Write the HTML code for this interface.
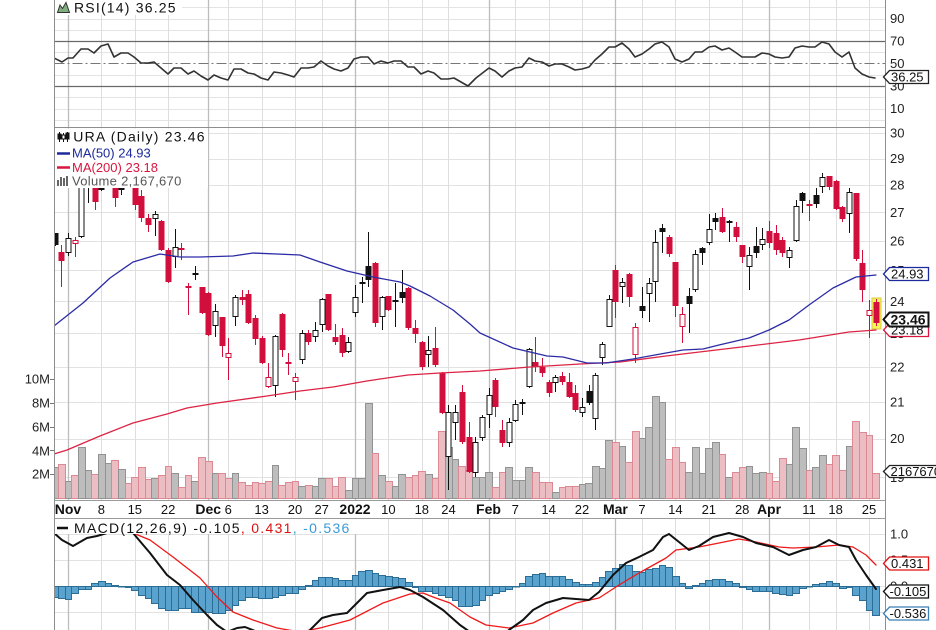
<!DOCTYPE html>
<html><head><meta charset="utf-8">
<style>
html,body{margin:0;padding:0;background:#fff;overflow:hidden;width:936px;height:630px;}
svg{display:block;}
text{font-family:"Liberation Sans",Arial,sans-serif;}
</style></head>
<body>
<svg id="c" width="936" height="630" viewBox="0 0 936 630" xmlns="http://www.w3.org/2000/svg">
<defs>
<clipPath id="cpPrice"><rect x="55" y="128" width="830" height="372"/></clipPath>
<clipPath id="cpRsi"><rect x="55" y="0" width="830" height="127"/></clipPath>
<clipPath id="cpMacd"><rect x="55" y="519" width="830" height="112"/></clipPath>
</defs>
<rect x="0" y="0" width="936" height="630" fill="#fff"/>
<g id="grid"></g>
<!-- RSI reference lines -->
<line x1="54.5" x2="885" y1="41.5" y2="41.5" stroke="#6a6a6a" stroke-width="1.2"/>
<line x1="54.5" x2="885" y1="86.5" y2="86.5" stroke="#6a6a6a" stroke-width="1.2"/>
<line x1="54.5" x2="885" y1="63.5" y2="63.5" stroke="#777" stroke-width="1" stroke-dasharray="10,3,2,3"/>
<g id="vol" clip-path="url(#cpPrice)"></g>
<g id="hist" clip-path="url(#cpMacd)"></g>
<g clip-path="url(#cpPrice)">
<rect x="872" y="298" width="9" height="31" fill="#f7f25a" stroke="#d8cb3c" stroke-width="1"/>
</g>
<g id="cand" clip-path="url(#cpPrice)"></g>
<g id="lines"></g>

<!-- panel borders -->
<line x1="54.5" x2="54.5" y1="0" y2="630" stroke="#8e8e8e"/>
<line x1="885.5" x2="885.5" y1="0" y2="630" stroke="#8e8e8e"/>
<line x1="54.5" x2="885.5" y1="127.5" y2="127.5" stroke="#8e8e8e"/>
<line x1="54.5" x2="885.5" y1="500.5" y2="500.5" stroke="#9a9a9a"/>
<line x1="54.5" x2="885.5" y1="518.5" y2="518.5" stroke="#9a9a9a"/>

<!-- Legend backgrounds -->
<rect x="55" y="0" width="127" height="15" fill="#fff"/>
<rect x="55" y="128.5" width="153" height="59.5" fill="#fff"/>
<rect x="55" y="519" width="302" height="15" fill="#fff"/>

<!-- RSI legend -->
<polygon points="57.5,12.5 60,5 62.5,8.5 66,2.5 69.5,12.5" fill="#7fae7f" stroke="#333" stroke-width="1"/>
<text x="74" y="12.7" font-size="14" letter-spacing="1.2" fill="#111">RSI(14) 36.25</text>

<!-- Price legend -->
<g stroke="#111" stroke-width="1">
<line x1="59.5" x2="59.5" y1="132" y2="142"/><rect x="58" y="134" width="3" height="5" fill="#111"/>
<line x1="63.5" x2="63.5" y1="133" y2="142"/><rect x="62" y="135" width="3" height="4" fill="#fff"/>
<line x1="67.5" x2="67.5" y1="132" y2="142"/><rect x="66" y="133" width="3" height="6" fill="#111"/>
</g>
<text x="73.3" y="141.7" font-size="14" letter-spacing="1.2" fill="#111">URA (Daily) 23.46</text>
<line x1="57" x2="70" y1="153.5" y2="153.5" stroke="#1c2a9c" stroke-width="2.5"/>
<text x="72" y="157.5" font-size="13" fill="#1c2a9c">MA(50) 24.93</text>
<line x1="57" x2="70" y1="167.5" y2="167.5" stroke="#d8163f" stroke-width="2.5"/>
<text x="72" y="172" font-size="13" fill="#d8163f">MA(200) 23.18</text>
<g fill="#666"><rect x="57" y="180" width="2" height="6"/><rect x="60" y="177" width="2" height="9"/><rect x="63" y="178" width="2" height="8"/><rect x="66" y="176" width="2" height="10"/></g>
<text x="72" y="185.5" font-size="13" fill="#555" letter-spacing="0.3">Volume 2,167,670</text>

<!-- MACD legend -->
<line x1="57" x2="68" y1="528" y2="528" stroke="#111" stroke-width="2.5"/>
<text x="74" y="533" font-size="14" letter-spacing="1.3" fill="#111">MACD(12,26,9) -0.105<tspan fill="#e01010">, 0.431</tspan><tspan fill="#3a9ad9">, -0.536</tspan></text>

<!-- right axis labels -->
<g font-size="13" fill="#222">
<text x="890" y="23">90</text>
<text x="890" y="45.5">70</text>
<text x="890" y="68">50</text>
<text x="890" y="90.5">30</text>
<text x="890" y="113">10</text>
<text x="890" y="137.5">30</text>
<text x="890" y="163">29</text>
<text x="890" y="189.5">28</text>
<text x="890" y="217">27</text>
<text x="890" y="245.5">26</text>
<text x="890" y="275">25</text>
<text x="890" y="306">24</text>
<text x="890" y="338">23</text>
<text x="890" y="371.5">22</text>
<text x="890" y="406.5">21</text>
<text x="890" y="443">20</text>
<text x="890" y="482">19</text>
<text x="890" y="538.5">1.0</text>
<text x="890" y="564.5">0.5</text>
<text x="890" y="590.5">0.0</text>
<text x="890" y="616.5">-0.5</text>
</g>

<!-- left volume labels -->
<g font-size="13" fill="#222" text-anchor="end">
<text x="50" y="383.5">10M</text>
<text x="50" y="407.5">8M</text>
<text x="50" y="431.5">6M</text>
<text x="50" y="455.5">4M</text>
<text x="50" y="478.5">2M</text>
</g>
<g stroke="#777"><line x1="50" x2="54" y1="379.5" y2="379.5"/><line x1="50" x2="54" y1="403.5" y2="403.5"/><line x1="50" x2="54" y1="427.5" y2="427.5"/><line x1="50" x2="54" y1="450.5" y2="450.5"/><line x1="50" x2="54" y1="474.5" y2="474.5"/></g>

<!-- date labels -->
<g font-size="13" fill="#111" text-anchor="middle">
<text x="68" y="514" font-weight="bold" font-size="14">Nov</text>
<text x="101.4" y="514">8</text>
<text x="134.8" y="514">15</text>
<text x="168.1" y="514">22</text>
<text x="208.2" y="514" font-weight="bold" font-size="14">Dec</text>
<text x="228.2" y="514">6</text>
<text x="261.6" y="514">13</text>
<text x="295" y="514">20</text>
<text x="321.7" y="514">27</text>
<text x="355" y="514" font-weight="bold" font-size="14">2022</text>
<text x="388.4" y="514">10</text>
<text x="421.8" y="514">18</text>
<text x="448.5" y="514">24</text>
<text x="488.5" y="514" font-weight="bold" font-size="14">Feb</text>
<text x="515.2" y="514">7</text>
<text x="548.6" y="514">14</text>
<text x="582" y="514">22</text>
<text x="615.4" y="514" font-weight="bold" font-size="14">Mar</text>
<text x="642" y="514">7</text>
<text x="675.4" y="514">14</text>
<text x="708.8" y="514">21</text>
<text x="742.2" y="514">28</text>
<text x="769" y="514" font-weight="bold" font-size="14">Apr</text>
<text x="809" y="514">11</text>
<text x="835.6" y="514">18</text>
<text x="869" y="514">25</text>
</g>

<!-- value boxes -->
<path d="M883.5,77 L889.5,70.5 L928.5,70.5 L928.5,83.5 L889.5,83.5 Z" fill="#fff" stroke="#222" stroke-width="1.3"/>
<text x="891" y="81.5" font-size="13" fill="#111">36.25</text>

<path d="M883.5,274 L889.5,267.5 L928.5,267.5 L928.5,280.5 L889.5,280.5 Z" fill="#fff" stroke="#1c2a9c" stroke-width="1.3"/>
<text x="891" y="278.5" font-size="13" fill="#111">24.93</text>

<path d="M883.5,330 L889.5,323.5 L928.5,323.5 L928.5,336.5 L889.5,336.5 Z" fill="#fff" stroke="#d8163f" stroke-width="1.3"/>
<text x="891" y="334.5" font-size="13" fill="#111">23.18</text>

<path d="M883.5,319.5 L889.5,312.5 L928.5,312.5 L928.5,326.5 L889.5,326.5 Z" fill="#fff" stroke="#111" stroke-width="2"/>
<text x="890.5" y="324.5" font-size="14" font-weight="bold" fill="#111">23.46</text>

<path d="M883.5,471.5 L889.5,465.5 L940,465.5 L940,477.5 L889.5,477.5 Z" fill="#fff" stroke="#222" stroke-width="1.3"/>
<text x="890.5" y="476" font-size="13" fill="#111">2167670</text>

<path d="M883.5,563.5 L889.5,557 L928.5,557 L928.5,570 L889.5,570 Z" fill="#fff" stroke="#e01010" stroke-width="1.3"/>
<text x="891" y="568" font-size="13" fill="#111">0.431</text>

<path d="M883.5,591.5 L889.5,585 L928.5,585 L928.5,598 L889.5,598 Z" fill="#fff" stroke="#111" stroke-width="1.3"/>
<text x="889.5" y="596" font-size="13" fill="#111">-0.105</text>

<path d="M883.5,613.5 L889.5,607 L928.5,607 L928.5,620 L889.5,620 Z" fill="#fff" stroke="#3a7fb3" stroke-width="1.3"/>
<text x="889.5" y="618" font-size="13" fill="#111">-0.536</text>
</svg>

<script>
(function(){
var NS='http://www.w3.org/2000/svg';
function el(p,t,a){var e=document.createElementNS(NS,t);for(var k in a)e.setAttribute(k,a[k]);p.appendChild(e);return e;}
function X(i){return 68+6.675*i;}
function $(id){return document.getElementById(id);}

/* grid */
var G=$('grid');
var weeks=[5,10,15,24,29,34,38,48,53,57,67,72,77,86,91,96,101,111,115,120];
var months=[0,21,43,63,82,105];
var r,y,p;
for(r=0;r<=100;r+=10){ if(r===30||r===50||r===70) continue; y=Math.round(86-(r-30)*1.125)+0.5; el(G,'line',{x1:54.5,x2:885,y1:y,y2:y,stroke:'#e4e4e4'});}
for(p=19;p<=30;p++){ y=Math.round(133+754*Math.log(30/p))+0.5; el(G,'line',{x1:54.5,x2:885,y1:y,y2:y,stroke:'#e2e2e2'});}
[534,560,586,612].forEach(function(yy){el(G,'line',{x1:54.5,x2:885,y1:yy+0.5,y2:yy+0.5,stroke:'#e2e2e2'});});
[[0,127.5],[128,500],[518.5,630]].forEach(function(pr){
  weeks.forEach(function(i){var x=Math.round(X(i))+0.5; el(G,'line',{x1:x,x2:x,y1:pr[0],y2:pr[1],stroke:'#dedede'});});
  months.forEach(function(i){var x=Math.round(X(i))+0.5; el(G,'line',{x1:x,x2:x,y1:pr[0],y2:pr[1],stroke:'#bdbdbd','stroke-width':1.3});});
});

var C=[
[-2,'B',233,233,245,246],[-1,'R',245,252,261,287],[0,'H',233,238,253,256],[1,'r',237,240,244,257],
[2,'H',180,181,237,238],[3,'B',176,178,185,203],[4,'R',175,178,202,210],[5,'B',176,180,190,191],
[6,'H',170,172,183,185],[7,'R',175,178,198,207],[8,'B',178,182,190,195],[9,'R',178,180,186,188],
[10,'R',183,185,205,210],[11,'R',190,196,218,222],[12,'R',214,218,225,232],[13,'H',211,214,219,236],
[14,'R',220,221,250,251],[15,'R',248,250,282,283],[16,'H',229,247,257,268],[17,'R',243,248,250,260],
[18,'R',283,286,288,315],[19,'B',266,273,275,280],[20,'R',287,287,313,314],[21,'R',292,293,335,336],
[22,'H',304,311,326,337],[23,'R',317,317,346,357],[24,'r',338,353,358,380],[25,'H',295,297,317,326],
[26,'R',290,297,300,305],[27,'R',290,294,323,324],[28,'R',315,318,339,345],[29,'R',336,338,363,364],
[30,'r',363,377,387,388],[31,'H',335,336,386,397],[32,'R',313,314,350,357],[33,'r',353,362,364,375],
[34,'r',373,377,382,400],[35,'H',330,333,360,364],[36,'R',330,333,342,345],[37,'H',322,330,337,342],
[38,'H',298,299,325,332],[39,'R',294,294,330,331],[40,'R',324,337,342,345],[41,'R',328,335,353,357],
[42,'H',337,342,352,353],[43,'H',285,297,313,317],[44,'B',277,282,284,303],[45,'B',232,266,280,287],
[46,'R',262,263,323,327],[47,'H',296,297,317,330],[48,'R',296,296,310,311],[49,'B',283,300,301,327],
[50,'B',270,292,298,303],[51,'R',287,288,328,330],[52,'R',320,328,334,343],[53,'R',341,342,367,370],
[54,'H',336,350,355,367],[55,'R',327,348,365,367],[56,'R',372,373,413,414],[57,'H',405,412,457,490],
[58,'H',405,412,423,440],[59,'R',385,392,442,444],[60,'R',422,437,472,473],[61,'H',437,442,473,477],
[62,'H',415,417,438,441],[63,'H',388,395,415,428],[64,'R',378,380,407,417],[65,'R',420,430,443,447],
[66,'H',418,422,443,447],[67,'H',400,404,421,422],[68,'B',399,402,403,415],[69,'H',348,349,387,388],
[70,'R',337,362,367,372],[71,'R',358,367,373,377],[72,'R',380,382,393,397],[73,'H',375,377,383,392],
[74,'R',372,376,382,385],[75,'R',373,382,397,398],[76,'R',385,393,410,412],[77,'H',398,407,413,417],
[78,'B',385,391,403,405],[79,'H',373,375,419,430],[80,'H',342,344,358,365],[81,'H',295,299,327,327],
[82,'R',265,270,302,318],[83,'H',278,282,287,303],[84,'R',273,274,297,307],[85,'r',323,327,355,363],
[86,'B',287,306,311,318],[87,'H',278,283,294,322],[88,'H',230,242,282,302],[89,'B',224,228,232,253],
[90,'R',235,237,254,257],[91,'R',262,262,306,317],[92,'r',307,314,327,343],[93,'B',288,296,304,333],
[94,'H',250,254,290,292],[95,'B',247,248,253,265],[96,'H',214,229,243,245],[97,'B',213,218,222,230],
[98,'R',208,217,232,233],[99,'B',220,221,222,242],[100,'R',222,227,237,242],[101,'R',245,245,257,263],
[102,'H',247,255,267,290],[103,'B',227,246,253,258],[104,'H',228,239,245,250],[105,'R',221,231,243,248],
[106,'R',225,233,250,255],[107,'R',237,240,253,257],[108,'H',247,250,258,268],[109,'H',200,206,241,242],
[110,'B',192,193,201,213],[111,'R',200,204,206,221],[112,'B',188,195,204,208],[113,'H',173,177,187,193],
[114,'R',176,176,187,190],[115,'R',180,181,209,210],[116,'R',206,207,219,222],[117,'H',188,192,214,233],
[118,'R',193,193,259,261],[119,'R',250,263,290,302],[120,'r',300,310,316,338],[121,'R',299,302,323,326]
];

var V=[467,464,481,475,447,470,474,454,463,460,469,483,477,467,479,478,475,466,473,487,475,481,457,461,473,473,478,473,482,485,482,483,481,465,485,482,481,486,485,486,478,478,486,477,490,478,478,403,453,475,481,486,474,477,475,471,474,478,431,447,459,466,470,
477,477,472,487,472,467,480,480,467,472,482,482,492,487,486,486,484,483,466,468,440,442,446,462,431,438,427,396,402,459,447,462,472,447,473,448,442,454,477,472,467,466,473,472,473,481,458,464,427,448,470,467,455,464,455,470,446,421,432,435,473];

var H=[597,598,599,593,589,589,583,581,583,585,586,587,590,595,598,603,608,610,610,608,608,612,612,612,613,613,610,605,600,597,597,598,598,597,595,593,593,589,585,580,577,577,578,580,580,575,571,570,573,575,576,577,578,582,587,591,591,593,595,597,600,606,
606,605,600,595,593,591,589,586,583,576,574,573,576,576,576,579,582,584,584,582,577,571,568,564,565,571,572,569,568,565,567,576,583,588,585,583,580,579,579,581,583,587,589,591,591,591,593,594,595,593,588,586,584,583,581,583,588,587,595,600,610,615];

/* volume */
var VG=$('vol');
C.forEach(function(c,k){
  var i=c[0], up=(c[1]==='H'||c[1]==='B');
  var l=Math.round(X(i)-3.34), rr=Math.round(X(i)+3.34), yy=V[k];
  if(yy===undefined) return;
  el(VG,'rect',{x:l+0.5,y:yy+0.5,width:rr-l,height:Math.max(0,498-yy),fill:up?'#bdbdbd':'#ecbdc2',stroke:up?'#929292':'#db8a94','stroke-width':1});
});

/* histogram */
var HG=$('hist');
C.forEach(function(c,k){
  var i=c[0], yy=H[k];
  if(yy===undefined) return;
  var l=Math.round(X(i)-3.34), rr=Math.round(X(i)+3.34);
  var t=Math.min(yy,586), b=Math.max(yy,586);
  el(HG,'rect',{x:l+0.5,y:t+0.5,width:rr-l,height:Math.max(0.5,b-t),fill:'#5ba3cf',stroke:'#2c6d96','stroke-width':1});
});

/* candles */
var CG=$('cand');
C.forEach(function(c){
  var i=c[0],t=c[1],h=c[2],o=c[3],b=c[4],lo=c[5];
  var cx=Math.round(X(i));
  var red=(t==='R'||t==='r');
  var col=red?'#d20f3c':'#111';
  el(CG,'line',{x1:cx+0.5,x2:cx+0.5,y1:h,y2:lo,stroke:col,'stroke-width':1});
  if(t==='H'||t==='r'){
    el(CG,'rect',{x:cx-2,y:o+0.5,width:5,height:Math.max(1,b-o-1),fill:'#fff',stroke:col,'stroke-width':1});
  } else {
    el(CG,'rect',{x:cx-2.5,y:o,width:6,height:Math.max(2,b-o),fill:col});
  }
});

/* lines */
var LG=$('lines');
function poly(pts,col,w,clip){
  var s=pts.map(function(p){return p[0]+','+p[1];}).join(' ');
  var e=el(LG,'polyline',{points:s,fill:'none',stroke:col,'stroke-width':w,'stroke-linejoin':'round','stroke-linecap':'round'});
  if(clip) e.setAttribute('clip-path','url(#'+clip+')');
}
var MA200=[[54,454],[67,450],[100,436],[133,423],[167,414],[187,408],[217,403],[267,396],[300,391],[333,387],[367,381],[380,379],[408,375],[440,373],[480,371],[530,367],[580,364],[620,362],[666,356],[733,348],[799,340],[849,332],[876,330]];
var MA50=[[54,326],[83,303],[110,278],[133,262],[160,254],[180,257],[200,257],[233,256],[253,253],[300,255],[320,262],[347,271],[373,277],[400,282],[410,286],[430,296],[453,310],[470,324],[480,333],[513,348],[547,356],[563,357],[587,363],[606,363],[633,359],[666,353],[683,350],[703,349],[719,345],[749,338],[769,330],[789,320],[809,305],[833,288],[856,277],[876,275]];
poly(MA200,'#dc2344',1.3,'cpPrice');
poly(MA50,'#2b2ba6',1.3,'cpPrice');

var RSI=[[54,58],[62,62],[68,58],[73,58],[81,49],[88,49],[94,53],[101,46],[108,44],[114,57],[121,53],[128,53],[134,57],[141,63],[148,63],[154,62],[161,68],[168,74],[174,68],[181,68],[188,74],[194,71],[201,76],[208,80],[214,75],[221,78],[228,80],[234,69],[241,69],[248,73],[254,74],[261,78],[268,80],[274,72],[281,73],[288,75],[294,77],[301,68],[308,68],[314,67],[321,61],[328,66],[334,69],[341,71],[348,68],[354,59],[361,57],[368,57],[374,64],[381,61],[388,63],[394,61],[401,61],[408,67],[414,67],[421,74],[428,71],[434,73],[441,79],[448,79],[454,78],[461,82],[468,86],[476,78],[489,68],[495,71],[502,77],[509,71],[515,68],[522,67],[529,58],[535,61],[542,62],[549,66],[555,64],[562,64],[569,67],[575,70],[582,69],[589,67],[595,60],[602,54],[609,47],[615,47],[622,43],[629,49],[635,57],[642,54],[649,49],[655,44],[662,42],[669,47],[675,59],[682,62],[689,59],[695,52],[702,52],[709,47],[715,46],[722,50],[729,48],[735,52],[742,57],[749,57],[755,57],[762,53],[769,54],[775,57],[782,58],[789,57],[795,48],[802,46],[809,47],[815,47],[822,42],[829,44],[835,52],[842,57],[849,52],[855,68],[862,74],[869,77],[875,78]];
poly(RSI,'#333',1.6,'cpRsi');

var SIG=[[54,522],[80,523],[100,530],[120,531],[133,533],[150,540],[173,557],[200,578],[217,597],[233,612],[253,620],[277,628],[300,632],[320,628],[350,620],[383,603],[410,594],[423,593],[433,597],[450,603],[470,617],[486,625],[509,628],[533,623],[553,613],[576,603],[599,598],[619,585],[639,573],[666,558],[676,550],[699,547],[719,543],[739,539],[756,542],[779,547],[793,548],[816,547],[839,545],[853,547],[866,555],[876,565]];
poly(SIG,'#f01818',1.3,'cpMacd');
var MACD=[[54,533],[62,540],[73,546],[87,538],[97,536],[107,533],[120,528],[133,533],[150,553],[167,575],[180,585],[193,600],[207,615],[217,625],[227,632],[237,628],[245,627],[255,631],[280,640],[300,640],[310,630],[322,618],[333,615],[347,613],[367,593],[383,590],[400,587],[410,590],[423,597],[443,610],[460,625],[470,632],[490,645],[509,630],[523,620],[533,610],[546,603],[563,598],[576,599],[589,600],[599,592],[613,575],[626,563],[639,557],[653,550],[663,537],[669,534],[679,542],[689,550],[699,546],[713,537],[729,533],[743,537],[756,543],[773,547],[789,555],[803,550],[816,547],[829,540],[839,545],[849,547],[856,560],[866,575],[876,589]];
poly(MACD,'#111',2,'cpMacd');

/* keep legends and boxes on top: move line group before borders */
var svg=$('c');
var firstBorder=LG.nextSibling;
})();
</script>
</body></html>
